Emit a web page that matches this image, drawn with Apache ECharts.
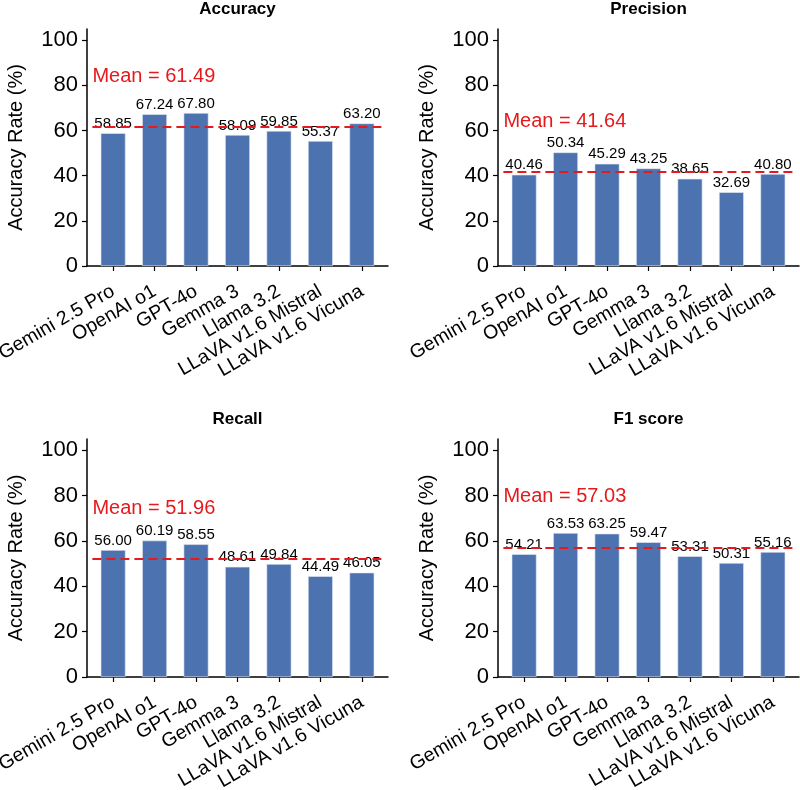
<!DOCTYPE html>
<html>
<head>
<meta charset="utf-8">
<script src="https://cdn.jsdelivr.net/npm/echarts@6/dist/echarts.min.js"></script>
<style>html,body{margin:0;padding:0;background:#fff}#c{width:800px;height:790px}</style>
</head>
<body>
<div id="c"></div>
<script>
const categories = ['Gemini 2.5 Pro', 'OpenAI o1', 'GPT-4o', 'Gemma 3', 'Llama 3.2', 'LLaVA v1.6 Mistral', 'LLaVA v1.6 Vicuna'];
const accuracy = [58.85, 67.24, 67.80, 58.09, 59.85, 55.37, 63.20];
const precision = [40.46, 50.34, 45.29, 43.25, 38.65, 32.69, 40.80];
const recall = [56.00, 60.19, 58.55, 48.61, 49.84, 44.49, 46.05];
const f1score = [54.21, 63.53, 63.25, 59.47, 53.31, 50.31, 55.16];
const panelTitles = ['Accuracy', 'Precision', 'Recall', 'F1 score'];
const yTicks = [0, 20, 40, 60, 80, 100];
const yLabel = 'Accuracy Rate (%)';

const panels = [accuracy, precision, recall, f1score];
const FONT = 'Liberation Sans, Arial, sans-serif';
const BAR = '#4c72b0';
const RED = '#e41a1c';
const YMAX = 105;

const layout = [
  {left: 87, top: 29, bottom0: 266},
  {left: 498, top: 29, bottom0: 266},
  {left: 87, top: 439, bottom0: 677},
  {left: 498, top: 439, bottom0: 677}
];
const AXW = 301;
const unit = AXW / 7.26;

const option = {
  animation: false,
  textStyle: {fontFamily: FONT},
  title: [], grid: [], xAxis: [], yAxis: [], series: []
};

panels.forEach((vals, i) => {
  const L = layout[i];
  const h = L.bottom0 - L.top;
  const mean = vals.reduce((a, b) => a + b, 0) / vals.length;
  option.title.push({
    text: panelTitles[i], left: L.left + AXW / 2, top: L.top - 28, textAlign: 'center', padding: 0,
    textStyle: {fontFamily: FONT, fontSize: 17, fontWeight: 'bold', color: '#000'}
  });
  option.grid.push({left: L.left, top: L.top, width: AXW, height: h, containLabel: false, outerBoundsMode: 'none'});
  option.grid.push({left: L.left + 0.13 * unit, top: L.top, width: 7 * unit, height: h, containLabel: false, outerBoundsMode: 'none'});
  const gA = 2 * i, gB = 2 * i + 1;
  option.xAxis.push({
    type: 'value', gridIndex: gA, min: 0, max: 1, show: true,
    axisLine: {show: true, lineStyle: {color: '#000', width: 1.5}},
    axisTick: {show: false}, axisLabel: {show: false}, splitLine: {show: false}
  });
  option.xAxis.push({
    type: 'category', gridIndex: gB, data: categories, boundaryGap: true,
    axisLine: {show: false},
    axisTick: {show: true, alignWithLabel: true, length: 5, lineStyle: {color: '#000', width: 1.2}},
    axisLabel: {show: true, rotate: 30, interval: 0, fontSize: 19.5, color: '#000', fontFamily: FONT, margin: 24},
    splitLine: {show: false}
  });
  option.yAxis.push({
    type: 'value', gridIndex: gA, min: 0, max: YMAX,
    name: yLabel, nameLocation: 'middle', nameGap: 61, nameRotate: 90,
    nameTextStyle: {fontSize: 20, color: '#000', fontFamily: FONT},
    axisLine: {show: true, lineStyle: {color: '#000', width: 1.5}},
    axisTick: {show: true, length: 5, lineStyle: {color: '#000', width: 1.2}, customValues: yTicks},
    axisLabel: {fontSize: 22, color: '#000', fontFamily: FONT, margin: 9, customValues: yTicks},
    splitLine: {show: false}
  });
  option.yAxis.push({
    type: 'value', gridIndex: gB, min: 0, max: YMAX, show: false, splitLine: {show: false}
  });
  option.series.push({
    type: 'bar', xAxisIndex: 2 * i + 1, yAxisIndex: 2 * i + 1, data: vals, barWidth: 0.6 * unit,
    itemStyle: {color: BAR, borderColor: '#e6ecf5', borderWidth: 0.6},
    label: {show: true, position: 'top', distance: 2, fontSize: 15, color: '#000', fontFamily: FONT,
      formatter: p => p.value.toFixed(2)},
    markLine: {
      silent: true, symbol: 'none',
      lineStyle: {color: RED, type: [9, 5], width: 2},
      label: {show: false},
      data: [{yAxis: mean}]
    },
    markPoint: {
      silent: true,
      data: [{coord: [0, mean + 23], symbol: 'circle', symbolSize: 0,
        label: {show: true, position: 'right', distance: 0, offset: [-unit / 2, 1],
          formatter: 'Mean = ' + mean.toFixed(2), fontSize: 20, color: RED, fontFamily: FONT}}]
    }
  });
});

const chart = echarts.init(document.getElementById('c'), null, {renderer: 'canvas'});
chart.setOption(option);
</script>
</body>
</html>
